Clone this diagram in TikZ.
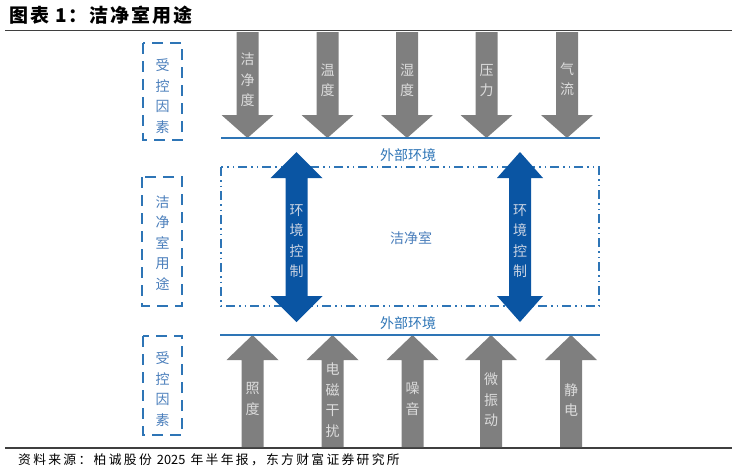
\documentclass[tikz,border=0pt]{standalone}
\usepackage{fontspec}
\setmainfont{Liberation Sans}
\newfontfamily\cjk{Noto Sans CJK SC}
\newfontfamily\cjkwide[LetterSpace=18]{Noto Sans CJK SC}
\newfontfamily\cjktitle[LetterSpace=10]{Noto Sans CJK SC}
\definecolor{rulegray}{HTML}{3F3F3F}
\definecolor{arrgray}{HTML}{7F7F7F}
\definecolor{arrtext}{HTML}{DCDCDC}
\definecolor{lineblue}{HTML}{2E75B6}
\definecolor{darkblue}{HTML}{0A55A3}
\definecolor{boxtext}{HTML}{4A7EBB}
\definecolor{dbtext}{HTML}{C9D3E3}
\tikzset{
  vlabel/.style={inner sep=0pt, align=center, font=\cjk\fontsize{14}{20.5}\selectfont},
  arrlabel/.style={vlabel, text=arrtext},
  boxlabel/.style={vlabel, text=boxtext},
  dblabel/.style={vlabel, text=dbtext},
  hlabel/.style={inner sep=0pt, font=\cjk\fontsize{14}{16}\selectfont, text=lineblue},
  dashbox/.style={draw=lineblue, line width=1.8pt, dash pattern=on 11pt off 7pt},
  roombox/.style={draw=lineblue, line width=1.3pt, dash pattern=on 9pt off 4pt on 1.5pt off 4pt on 1.5pt off 4pt},
  envline/.style={draw=lineblue, line width=2.2pt},
  hrule/.style={draw=rulegray, line width=1.3pt}
}
\newcommand\grayDown[1]{\fill[arrgray] (#1-11,32) -- (#1+11,32) -- (#1+11,115) -- (#1+26,115) -- (#1,138) -- (#1-26,115) -- (#1-11,115) -- cycle;}
\newcommand\grayUp[1]{\fill[arrgray] (#1-11,447) -- (#1+11,447) -- (#1+11,360) -- (#1+26,360) -- (#1,335) -- (#1-26,360) -- (#1-11,360) -- cycle;}
\newcommand\blueDouble[2]{\fill[darkblue] (#1,152) -- (#1+#2,178) -- (#1+11,178) -- (#1+11,296) -- (#1+#2,296) -- (#1,322) -- (#1-#2,296) -- (#1-11,296) -- (#1-11,178) -- (#1-#2,178) -- cycle;}
\begin{document}
\begin{tikzpicture}[x=1pt,y=-1pt]
\useasboundingbox (0,0) rectangle (737,472);
% title and rules
\node[anchor=west, inner sep=0pt, font=\cjktitle\bfseries\fontsize{19}{21}\selectfont, text=black] (title) at (9,15) {图表 1：洁净室用途};
\draw[hrule] (5,30.5) -- (732,30.5);
\draw[hrule] (5,448) -- (732,448);
\node[anchor=west, inner sep=0pt, font=\cjkwide\fontsize{12.8}{14}\selectfont, text=black] (src) at (18,460) {资料来源：柏诚股份 {\cjk 2025} 年半年报，东方财富证券研究所};

% left dashed boxes
\draw[dashbox] (143,43) rectangle (182,140);
\draw[dashbox] (142,177) rectangle (182,306);
\draw[dashbox] (143,336) rectangle (182,435);
\node[boxlabel] (f1) at (162.5,96) {受\\控\\因\\素};
\node[boxlabel] (use) at (162.5,243) {洁\\净\\室\\用\\途};
\node[boxlabel] (f2) at (162.5,389) {受\\控\\因\\素};

% top gray arrows
\grayDown{247.5}\grayDown{327.5}\grayDown{407}\grayDown{486.5}\grayDown{567}
\node[arrlabel] (t1) at (247.5,80) {洁\\净\\度};
\node[arrlabel] (t2) at (327.5,80.5) {温\\度};
\node[arrlabel] (t3) at (407,80.5) {湿\\度};
\node[arrlabel] (t4) at (486.5,80.5) {压\\力};
\node[arrlabel] (t5) at (567,79) {气\\流};

% bottom gray arrows
\grayUp{252.5}\grayUp{332.5}\grayUp{412.5}\grayUp{491}\grayUp{571}
\node[arrlabel] (b1) at (252.5,399) {照\\度};
\node[arrlabel] (b2) at (332.5,400) {电\\磁\\干\\扰};
\node[arrlabel] (b3) at (412.5,399) {噪\\音};
\node[arrlabel] (b4) at (491,400) {微\\振\\动};
\node[arrlabel] (b5) at (571,400) {静\\电};

% environment lines
\draw[envline] (221,138) -- (600,138);
\draw[envline] (220,335) -- (600,335);
\node[hlabel] (envT) at (408,155) {外部环境};
\node[hlabel] (envB) at (408,323) {外部环境};

% clean room box
\draw[roombox] (221,167) rectangle (599,306);
\node[hlabel, text=boxtext] (room) at (411,238) {洁净室};

% double arrows
\blueDouble{296.5}{26}
\blueDouble{520}{23}
\node[dblabel] (c1) at (296.5,241) {环\\境\\控\\制};
\node[dblabel] (c2) at (520,241) {环\\境\\控\\制};
\end{tikzpicture}
\end{document}
